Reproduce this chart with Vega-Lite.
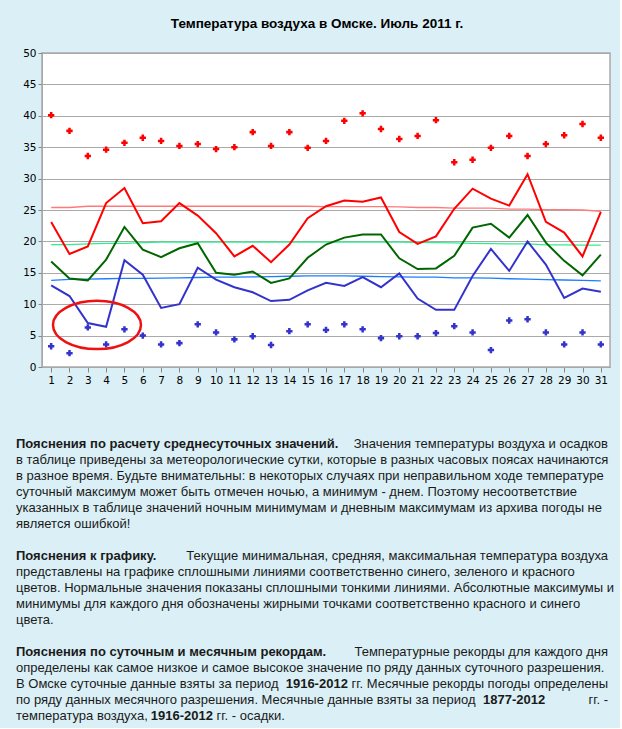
{
  "$schema": "https://vega.github.io/schema/vega-lite/v6.json",
  "background": "#daf0f6",
  "padding": {"left": 15, "top": 15, "right": 5, "bottom": 5},
  "spacing": 51,
  "config": {"view": {"stroke": null}, "font": "Liberation Sans"},
  "datasets": {
    "days": [
      {"day": 1, "tmax": 23.1, "tmean": 16.8, "tmin": 13.0, "nmax": 25.4, "nmean": 19.5, "nmin": 13.8, "rmax": 40.1, "rmin": 3.3},
      {"day": 2, "tmax": 18.0, "tmean": 14.1, "tmin": 11.3, "nmax": 25.4, "nmean": 19.5, "nmin": 13.95, "rmax": 37.6, "rmin": 2.2},
      {"day": 3, "tmax": 19.2, "tmean": 13.8, "tmin": 7.0, "nmax": 25.6, "nmean": 19.6, "nmin": 14.0, "rmax": 33.6, "rmin": 6.3},
      {"day": 4, "tmax": 26.1, "tmean": 17.1, "tmin": 6.4, "nmax": 25.6, "nmean": 19.7, "nmin": 14.05, "rmax": 34.6, "rmin": 3.6},
      {"day": 5, "tmax": 28.5, "tmean": 22.3, "tmin": 17.0, "nmax": 25.6, "nmean": 19.7, "nmin": 14.1, "rmax": 35.7, "rmin": 6.0},
      {"day": 6, "tmax": 22.9, "tmean": 18.7, "tmin": 14.7, "nmax": 25.6, "nmean": 19.8, "nmin": 14.1, "rmax": 36.5, "rmin": 5.0},
      {"day": 7, "tmax": 23.2, "tmean": 17.5, "tmin": 9.4, "nmax": 25.6, "nmean": 19.9, "nmin": 14.15, "rmax": 36.0, "rmin": 3.6},
      {"day": 8, "tmax": 26.1, "tmean": 18.9, "tmin": 10.0, "nmax": 25.6, "nmean": 19.9, "nmin": 14.2, "rmax": 35.2, "rmin": 3.8},
      {"day": 9, "tmax": 24.1, "tmean": 19.7, "tmin": 15.8, "nmax": 25.6, "nmean": 19.9, "nmin": 14.25, "rmax": 35.5, "rmin": 6.8},
      {"day": 10, "tmax": 21.3, "tmean": 15.0, "tmin": 13.9, "nmax": 25.6, "nmean": 19.9, "nmin": 14.3, "rmax": 34.7, "rmin": 5.5},
      {"day": 11, "tmax": 17.6, "tmean": 14.7, "tmin": 12.7, "nmax": 25.6, "nmean": 19.9, "nmin": 14.3, "rmax": 35.0, "rmin": 4.4},
      {"day": 12, "tmax": 19.3, "tmean": 15.2, "tmin": 11.9, "nmax": 25.6, "nmean": 19.9, "nmin": 14.35, "rmax": 37.4, "rmin": 4.9},
      {"day": 13, "tmax": 16.7, "tmean": 13.4, "tmin": 10.5, "nmax": 25.6, "nmean": 19.9, "nmin": 14.4, "rmax": 35.2, "rmin": 3.5},
      {"day": 14, "tmax": 19.5, "tmean": 14.1, "tmin": 10.7, "nmax": 25.6, "nmean": 19.9, "nmin": 14.45, "rmax": 37.4, "rmin": 5.7},
      {"day": 15, "tmax": 23.7, "tmean": 17.4, "tmin": 12.2, "nmax": 25.6, "nmean": 19.9, "nmin": 14.5, "rmax": 34.9, "rmin": 6.8},
      {"day": 16, "tmax": 25.6, "tmean": 19.5, "tmin": 13.4, "nmax": 25.55, "nmean": 19.9, "nmin": 14.5, "rmax": 36.0, "rmin": 5.9},
      {"day": 17, "tmax": 26.5, "tmean": 20.6, "tmin": 12.9, "nmax": 25.55, "nmean": 19.9, "nmin": 14.5, "rmax": 39.2, "rmin": 6.8},
      {"day": 18, "tmax": 26.3, "tmean": 21.1, "tmin": 14.3, "nmax": 25.55, "nmean": 19.9, "nmin": 14.45, "rmax": 40.4, "rmin": 6.0},
      {"day": 19, "tmax": 27.0, "tmean": 21.1, "tmin": 12.7, "nmax": 25.55, "nmean": 19.9, "nmin": 14.4, "rmax": 37.9, "rmin": 4.6},
      {"day": 20, "tmax": 21.5, "tmean": 17.3, "tmin": 14.9, "nmax": 25.5, "nmean": 19.9, "nmin": 14.35, "rmax": 36.3, "rmin": 4.9},
      {"day": 21, "tmax": 19.6, "tmean": 15.6, "tmin": 10.9, "nmax": 25.4, "nmean": 19.85, "nmin": 14.3, "rmax": 36.8, "rmin": 4.9},
      {"day": 22, "tmax": 20.8, "tmean": 15.7, "tmin": 9.1, "nmax": 25.4, "nmean": 19.8, "nmin": 14.3, "rmax": 39.3, "rmin": 5.4},
      {"day": 23, "tmax": 25.2, "tmean": 17.7, "tmin": 9.1, "nmax": 25.3, "nmean": 19.75, "nmin": 14.2, "rmax": 32.6, "rmin": 6.5},
      {"day": 24, "tmax": 28.4, "tmean": 22.2, "tmin": 14.5, "nmax": 25.3, "nmean": 19.7, "nmin": 14.2, "rmax": 33.0, "rmin": 5.5},
      {"day": 25, "tmax": 26.8, "tmean": 22.8, "tmin": 18.8, "nmax": 25.3, "nmean": 19.65, "nmin": 14.15, "rmax": 34.9, "rmin": 2.7},
      {"day": 26, "tmax": 25.7, "tmean": 20.6, "tmin": 15.3, "nmax": 25.15, "nmean": 19.6, "nmin": 14.05, "rmax": 36.8, "rmin": 7.4},
      {"day": 27, "tmax": 30.7, "tmean": 24.2, "tmin": 20.0, "nmax": 25.15, "nmean": 19.6, "nmin": 14.0, "rmax": 33.6, "rmin": 7.6},
      {"day": 28, "tmax": 23.1, "tmean": 19.8, "tmin": 16.3, "nmax": 25.05, "nmean": 19.45, "nmin": 13.9, "rmax": 35.5, "rmin": 5.5},
      {"day": 29, "tmax": 21.4, "tmean": 16.9, "tmin": 11.0, "nmax": 25.05, "nmean": 19.45, "nmin": 13.85, "rmax": 36.9, "rmin": 3.6},
      {"day": 30, "tmax": 17.6, "tmean": 14.6, "tmin": 12.5, "nmax": 25.0, "nmean": 19.4, "nmin": 13.8, "rmax": 38.7, "rmin": 5.5},
      {"day": 31, "tmax": 24.7, "tmean": 17.9, "tmin": 12.0, "nmax": 24.8, "nmean": 19.4, "nmin": 13.7, "rmax": 36.5, "rmin": 3.6}
    ],
    "highlight": [{"day": 3.5, "value": 6.7}],
    "heads": [
      {"row": 0, "text": "Пояснения по расчету среднесуточных значений."},
      {"row": 7, "text": "Пояснения к графику."},
      {"row": 13, "text": "Пояснения по суточным и месячным рекордам."}
    ],
    "tails": [
      {"row": 0, "text": "Значения температуры воздуха и осадков"},
      {"row": 7, "text": "Текущие минимальная, средняя, максимальная температура воздуха"},
      {"row": 13, "text": "Температурные рекорды для каждого дня"},
      {"row": 15, "text": "гг. Месячные рекорды погоды определены"},
      {"row": 16, "text": "гг. -"}
    ],
    "lines": [
      {"row": 1, "text": "в таблице приведены за метеорологические сутки, которые в разных часовых поясах начинаются"},
      {"row": 2, "text": "в разное время. Будьте внимательны: в некоторых случаях при неправильном ходе температуре"},
      {"row": 3, "text": "суточный максимум может быть отмечен ночью, а минимум - днем. Поэтому несоответствие"},
      {"row": 4, "text": "указанных в таблице значений ночным минимумам и дневным максимумам из архива погоды не"},
      {"row": 5, "text": "является ошибкой!"},
      {"row": 8, "text": "представлены на графике сплошными линиями соответственно синего, зеленого и красного"},
      {"row": 9, "text": "цветов. Нормальные значения показаны сплошными тонкими линиями. Абсолютные максимумы и"},
      {"row": 10, "text": "минимумы для каждого дня обозначены жирными точками соответственно красного и синего"},
      {"row": 11, "text": "цвета."},
      {"row": 14, "text": "определены как самое низкое и самое высокое значение по ряду данных суточного разрешения."},
      {"row": 15, "text": "В Омске суточные данные взяты за период"},
      {"row": 16, "text": "по ряду данных месячного разрешения. Месячные данные взяты за период"},
      {"row": 17, "text": "температура воздуха,"}
    ],
    "inlineBold": [
      {"row": 15, "col": 41, "text": "1916-2012"},
      {"row": 16, "col": 71, "text": "1877-2012"},
      {"row": 17, "col": 20.5, "text": "1916-2012"}
    ],
    "inlineRegular": [
      {"row": 17, "col": 30.5, "text": "гг. - осадки."}
    ]
  },
  "vconcat": [
    {
      "width": 568,
      "height": 314,
      "title": {
        "text": "Температура воздуха в Омске. Июль 2011 г.",
        "font": "Liberation Sans",
        "fontSize": 13.5,
        "fontWeight": "bold",
        "color": "#000000",
        "anchor": "middle",
        "offset": 18,
        "dx": -9
      },
      "view": {"fill": "#ffffff", "stroke": "#a9a9a9", "strokeWidth": 1.5},
      "encoding": {
        "x": {
          "field": "day",
          "type": "quantitative",
          "scale": {"domain": [0.5, 31.5], "nice": false, "zero": false},
          "axis": {
            "title": null,
            "values": [1,2,3,4,5,6,7,8,9,10,11,12,13,14,15,16,17,18,19,20,21,22,23,24,25,26,27,28,29,30,31],
            "format": "d",
            "grid": false,
            "labelFont": "DejaVu Sans",
            "labelFontSize": 10.5,
            "labelColor": "#000000",
            "labelPadding": 3,
            "labelFlush": false,
            "labelOverlap": false,
            "tickColor": "#888888",
            "tickSize": 5,
            "domainColor": "#a9a9a9"
          }
        },
        "y": {
          "field": "value",
          "type": "quantitative",
          "scale": {"domain": [0, 50], "nice": false},
          "axis": {
            "title": null,
            "values": [0,5,10,15,20,25,30,35,40,45,50],
            "grid": true,
            "gridColor": "#aaaaaa",
            "gridWidth": 1,
            "labelFont": "DejaVu Sans",
            "labelFontSize": 10.5,
            "labelColor": "#000000",
            "labelPadding": 2,
            "tickColor": "#888888",
            "tickSize": 4,
            "domainColor": "#a9a9a9",
            "minExtent": 26,
            "maxExtent": 26
          }
        }
      },
      "layer": [
        {
          "data": {"name": "days"},
          "transform": [{"fold": ["nmax", "nmean", "nmin"], "as": ["key", "value"]}],
          "mark": {"type": "line", "strokeWidth": 1.3},
          "encoding": {
            "color": {
              "field": "key",
              "type": "nominal",
              "scale": {"domain": ["nmax", "nmean", "nmin", "tmax", "tmean", "tmin", "rmax", "rmin"], "range": ["#ff7a7a", "#2ef08a", "#1a7fff", "#ff0000", "#006600", "#3333cc", "#ff0000", "#3333cc"]},
              "legend": null
            }
          }
        },
        {
          "data": {"name": "days"},
          "transform": [{"fold": ["tmax", "tmean", "tmin"], "as": ["key", "value"]}],
          "mark": {"type": "line", "strokeWidth": 2},
          "encoding": {
            "color": {
              "field": "key",
              "type": "nominal",
              "scale": {"domain": ["nmax", "nmean", "nmin", "tmax", "tmean", "tmin", "rmax", "rmin"], "range": ["#ff7a7a", "#2ef08a", "#1a7fff", "#ff0000", "#006600", "#3333cc", "#ff0000", "#3333cc"]},
              "legend": null
            }
          }
        },
        {
          "data": {"name": "days"},
          "transform": [{"fold": ["rmax", "rmin"], "as": ["key", "value"]}],
          "mark": {"type": "point", "shape": "cross", "filled": true, "size": 40, "opacity": 1},
          "encoding": {
            "color": {
              "field": "key",
              "type": "nominal",
              "scale": {"domain": ["nmax", "nmean", "nmin", "tmax", "tmean", "tmin", "rmax", "rmin"], "range": ["#ff7a7a", "#2ef08a", "#1a7fff", "#ff0000", "#006600", "#3333cc", "#ff0000", "#3333cc"]},
              "legend": null
            }
          }
        },
        {
          "data": {"name": "highlight"},
          "mark": {
            "type": "point",
            "shape": "M-1,0 A1,0.55 0 1,0 1,0 A1,0.55 0 1,0 -1,0 Z",
            "size": 7744,
            "filled": false,
            "stroke": "#ee1111",
            "strokeWidth": 2.5,
            "opacity": 1
          }
        }
      ]
    },
    {
      "width": 566,
      "height": 272,
      "encoding": {
        "y": {"field": "row", "type": "quantitative", "scale": {"domain": [0, 17], "range": [0, 272]}, "axis": null}
      },
      "layer": [
        {
          "data": {"name": "heads"},
          "mark": {"type": "text", "align": "left", "baseline": "middle", "font": "Liberation Sans", "fontSize": 13, "fontWeight": "bold", "color": "#1a1a1a"},
          "encoding": {
            "x": {"datum": 0, "type": "quantitative", "scale": {"domain": [0, 90], "range": [-26, 566]}, "axis": null},
            "text": {"field": "text"}
          }
        },
        {
          "data": {"name": "tails"},
          "mark": {"type": "text", "align": "right", "baseline": "middle", "font": "Liberation Sans", "fontSize": 13, "color": "#1a1a1a"},
          "encoding": {
            "x": {"datum": 90, "type": "quantitative", "scale": {"domain": [0, 90], "range": [-26, 566]}, "axis": null},
            "text": {"field": "text"}
          }
        },
        {
          "data": {"name": "lines"},
          "mark": {"type": "text", "align": "left", "baseline": "middle", "font": "Liberation Sans", "fontSize": 13, "color": "#1a1a1a"},
          "encoding": {
            "x": {"datum": 0, "type": "quantitative", "scale": {"domain": [0, 90], "range": [-26, 566]}, "axis": null},
            "text": {"field": "text"}
          }
        },
        {
          "data": {"name": "inlineBold"},
          "mark": {"type": "text", "align": "left", "baseline": "middle", "font": "Liberation Sans", "fontSize": 13, "fontWeight": "bold", "color": "#1a1a1a"},
          "encoding": {
            "x": {"field": "col", "type": "quantitative", "scale": {"domain": [0, 90], "range": [-26, 566]}, "axis": null},
            "text": {"field": "text"}
          }
        },
        {
          "data": {"name": "inlineRegular"},
          "mark": {"type": "text", "align": "left", "baseline": "middle", "font": "Liberation Sans", "fontSize": 13, "color": "#1a1a1a"},
          "encoding": {
            "x": {"field": "col", "type": "quantitative", "scale": {"domain": [0, 90], "range": [-26, 566]}, "axis": null},
            "text": {"field": "text"}
          }
        }
      ]
    }
  ]
}
